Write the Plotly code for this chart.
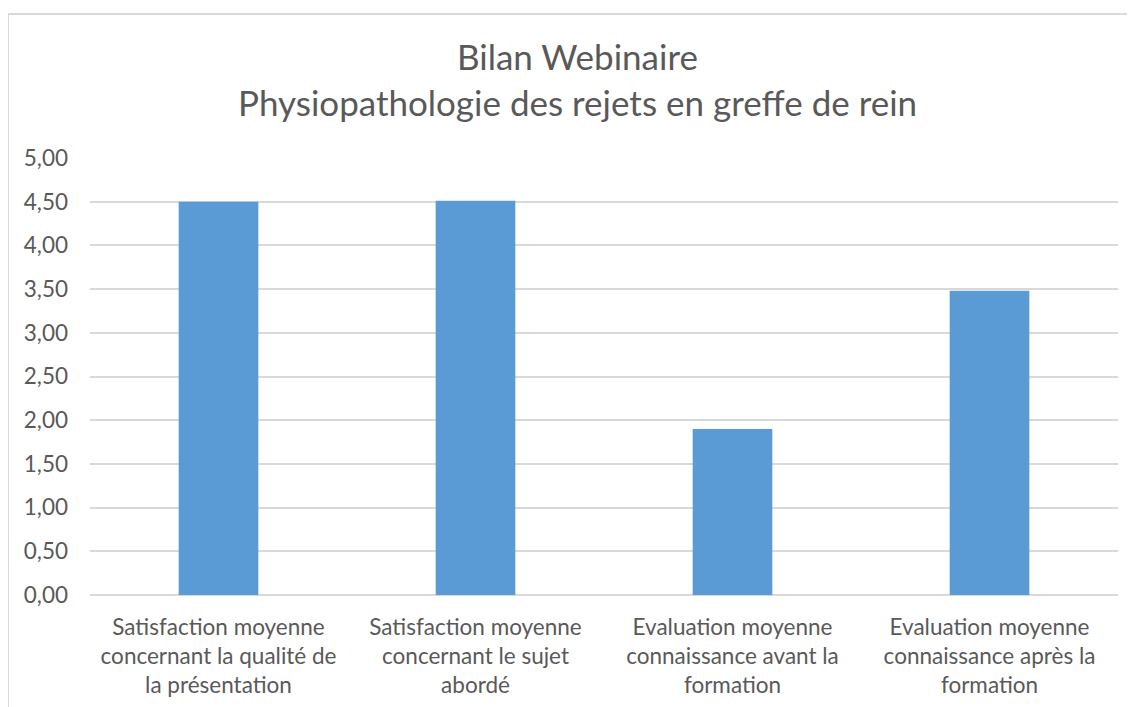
import plotly.graph_objects as go

categories = [
    "Satisfaction moyenne<br>concernant la qualité de<br>la présentation",
    "Satisfaction moyenne<br>concernant le sujet<br>abordé",
    "Evaluation moyenne<br>connaissance avant la<br>formation",
    "Evaluation moyenne<br>connaissance après la<br>formation",
]
values = [4.50, 4.51, 1.90, 3.48]
title_lines = ["Bilan Webinaire", "Physiopathologie des rejets en greffe de rein"]

FONT = "Lato"
TXT = "#595959"
GRID = "#d9d9d9"

fig = go.Figure(go.Bar(x=categories, y=values, marker=dict(color="#5b9bd5", line=dict(width=0)), width=0.31))

# page body has an 8px margin; work in figure pixel coordinates
OFF = 8
W, H = 1135, 707
L, R, T, B = 90 - OFF, 1118 - OFF, 158 - OFF, 595 - OFF
pw, ph = R - L, B - T

def px(x):
    return (x - OFF - L) / pw

def py(y):
    return (B - (y - OFF)) / ph

fig.update_layout(
    width=W, height=H,
    margin=dict(l=L, r=W - R, t=T, b=H - B, pad=0),
    paper_bgcolor="white", plot_bgcolor="white",
    separators=", ",
    showlegend=False,
    font=dict(family=FONT, color=TXT),
    xaxis=dict(showgrid=False, showline=False, zeroline=False, ticks="",
               tickfont=dict(size=22.5, color=TXT, family=FONT), ticklabelstandoff=16),
    yaxis=dict(range=[0, 5], dtick=0.5, tick0=0, tickformat=".2f", showgrid=True, gridcolor=GRID,
               gridwidth=1.5, zeroline=True, zerolinecolor=GRID, zerolinewidth=1.5, showline=False,
               ticks="", tickfont=dict(size=22.5, color=TXT, family=FONT), ticklabelstandoff=21),
    shapes=[
        dict(type="line", xref="paper", yref="paper", x0=px(8), x1=px(1160), y0=py(14), y1=py(14),
             line=dict(color=GRID, width=2)),
        dict(type="line", xref="paper", yref="paper", x0=px(8), x1=px(8), y0=py(14), y1=py(740),
             line=dict(color=GRID, width=2)),
    ],
    annotations=[
        dict(text=title_lines[0], xref="paper", yref="paper", x=px(577), y=py(56), xanchor="center",
             yanchor="middle", showarrow=False, font=dict(size=35, color=TXT, family=FONT)),
        dict(text=title_lines[1], xref="paper", yref="paper", x=px(577), y=py(102), xanchor="center",
             yanchor="middle", showarrow=False, font=dict(size=35, color=TXT, family=FONT)),
    ],
)

fig.write_html("out.html")
